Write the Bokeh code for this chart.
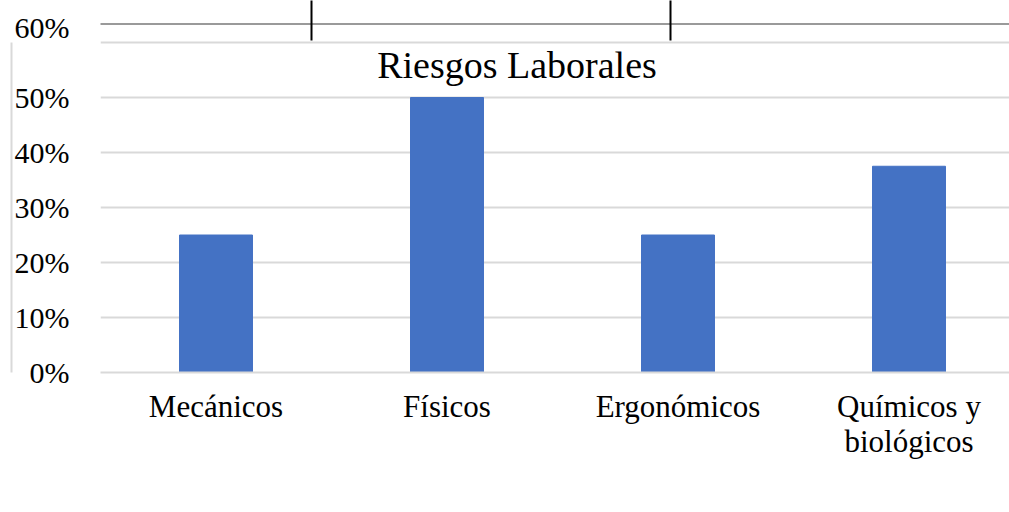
from bokeh.plotting import figure
from bokeh.models import (Range1d, FixedTicker, NumeralTickFormatter, Label, BoxAnnotation,
                          ColumnDataSource, LinearAxis)
from bokeh.embed import file_html
from bokeh.resources import INLINE

# ---- data ----
categories = ["Mecánicos", "Físicos", "Ergonómicos", "Químicos y biológicos"]
category_labels = ["Mecánicos", "Físicos", "Ergonómicos", "Químicos y\nbiológicos"]
values = [0.25, 0.50, 0.25, 0.375]
y_ticks = [0.0, 0.1, 0.2, 0.3, 0.4, 0.5, 0.6]
title_text = "Riesgos Laborales"

FONT = "Liberation Serif"
BAR = "#4472C4"
GRID = "#d9d9d9"

x_pos = list(range(len(categories)))
src = ColumnDataSource(dict(x=x_pos, top=values, cat=categories))

# pixel helpers for layout (frame: left 100, width 909, bottom 372 px, 550 px per 100%)
def dx(px):
    return -0.5 + (px - 100) / 231.0

def dy(py):
    return (372 - py) / 550.0

p = figure(width=1009, height=512, output_backend="svg", toolbar_location=None,
           x_range=Range1d(dx(100), dx(1009)), y_range=Range1d(dy(372), dy(0)),
           min_border_left=100, min_border_right=0, min_border_top=0, min_border_bottom=140)
p.outline_line_color = None
p.background_fill_color = "white"
p.border_fill_color = "white"

p.vbar(x="x", top="top", width=0.316, source=src, color=BAR)

# grid
p.xgrid.visible = False
p.ygrid.ticker = FixedTicker(ticks=y_ticks)
p.ygrid.grid_line_color = GRID
p.ygrid.grid_line_width = 2

# x axis
p.xaxis.ticker = FixedTicker(ticks=x_pos)
p.xaxis.major_label_overrides = {i: lab for i, lab in zip(x_pos, category_labels)}
p.xaxis.axis_line_color = GRID
p.xaxis.axis_line_width = 2
p.xaxis.major_tick_line_color = None
p.xaxis.minor_tick_line_color = None
p.xaxis.major_tick_out = 0
p.xaxis.major_tick_in = 0
p.xaxis.major_label_text_font = FONT
p.xaxis.major_label_text_font_size = "31px"
p.xaxis.major_label_text_color = "black"
p.xaxis.major_label_text_line_height = 1.0
p.xaxis.major_label_standoff = 16

# y axis (the 60% label sits higher, where the page cut it)
top_label_pos = dy(27)
yax = p.yaxis[0]
yax.ticker = FixedTicker(ticks=y_ticks[:-1] + [top_label_pos])
yax.formatter = NumeralTickFormatter(format="0%")
yax.major_label_overrides = {top_label_pos: "60%"}
yax.axis_line_color = None
yax.major_tick_line_color = None
yax.minor_tick_line_color = None
yax.major_tick_out = 0
yax.major_tick_in = 0
yax.major_label_text_font = FONT
yax.major_label_text_font_size = "30px"
yax.major_label_text_color = "black"
yax.major_label_standoff = 31

# outer left rule of the page (an unlabelled axis line)
rule = LinearAxis(ticker=FixedTicker(ticks=[]), bounds=(y_ticks[0], y_ticks[-1]),
                  axis_line_color=GRID, axis_line_width=2,
                  major_tick_line_color=None, minor_tick_line_color=None,
                  major_tick_out=0, major_tick_in=0, minor_tick_out=0,
                  major_label_text_font_size="0px")
p.add_layout(rule, "left")

# title inside the chart area
p.add_layout(Label(x=dx(516.5), y=dy(64), text=title_text, text_font=FONT,
                   text_font_size="38px", text_align="center", text_baseline="alphabetic",
                   text_color="black"))

# page/table decorations
def box(l, r, t, b, color):
    p.add_layout(BoxAnnotation(left=dx(l), right=dx(r), top=dy(t), bottom=dy(b),
                               fill_color=color, fill_alpha=1, line_color=None, level="overlay"))

box(99, 1015, 22.5, 24.5, "#9a9a9a")      # dark rule
box(310, 312, -5, 40, "black")            # table cell borders
box(669, 671, -5, 40, "black")

open("out.html", "w").write(file_html(p, INLINE))
